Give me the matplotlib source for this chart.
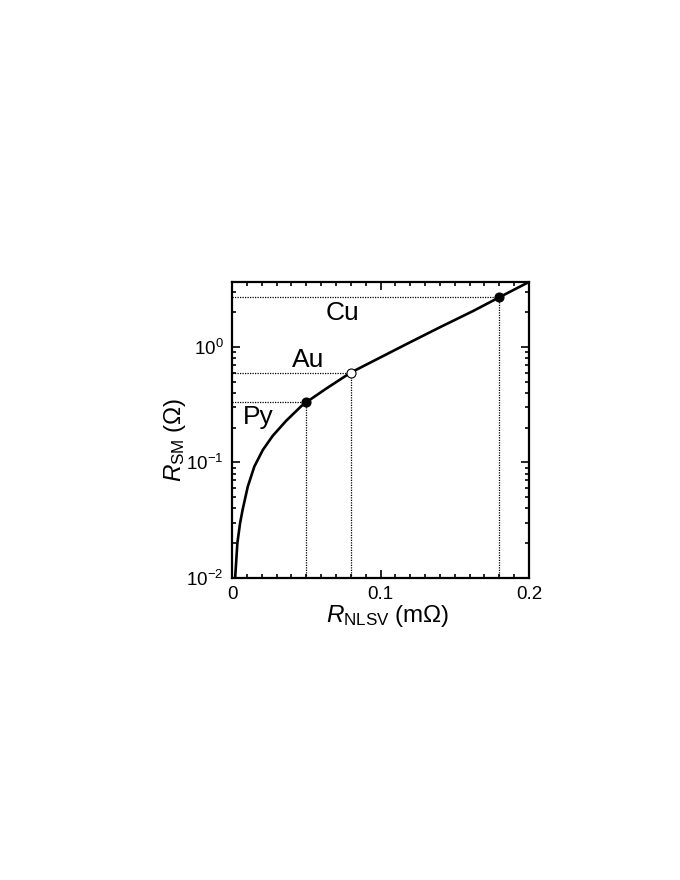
import matplotlib
matplotlib.use("Agg")
import matplotlib.pyplot as plt
from matplotlib.ticker import FixedLocator, FixedFormatter, LogLocator, LogFormatterMathtext, MultipleLocator

plt.rcParams["font.family"] = ["Liberation Sans", "DejaVu Sans"]
plt.rcParams["mathtext.fontset"] = "custom"
plt.rcParams["mathtext.rm"] = "Liberation Sans"
plt.rcParams["mathtext.it"] = "Liberation Sans:italic"

# curve: R_NLSV (mOhm) vs R_SM (Ohm)
r_nlsv = [0.0021, 0.0036, 0.0054, 0.0072, 0.0106, 0.0150, 0.0207, 0.0274,
          0.0364, 0.0465, 0.0500, 0.0638, 0.0800, 0.1000, 0.1176, 0.1400,
          0.1625, 0.1800, 0.2000]
r_sm = [0.0100, 0.0200, 0.0297, 0.0393, 0.0617, 0.092, 0.128, 0.170,
        0.229, 0.306, 0.332, 0.439, 0.600, 0.812, 1.060, 1.48,
        2.05, 2.69, 3.65]

# materials marked on the curve
materials = ["Py", "Au", "Cu"]
mat_x = [0.05, 0.08, 0.18]
mat_y = [0.332, 0.60, 2.69]
mat_filled = [True, False, True]

x_ticks = [0, 0.1, 0.2]
x_ticklabels = ["0", "0.1", "0.2"]

fig = plt.figure(figsize=(6.8, 8.8), dpi=100)
ax = fig.add_axes([0.3412, 0.3432, 0.4368, 0.3364])

ymin, ymax = 0.01, 3.65
for x, y in zip(mat_x, mat_y):
    ax.plot([0, x], [y, y], color="black", lw=0.9, ls=(0, (1, 1)), zorder=1)
    ax.plot([x, x], [ymin, y], color="black", lw=0.9, ls=(0, (1, 1)), zorder=1)

ax.plot(r_nlsv, r_sm, color="black", lw=1.9, zorder=2)

for x, y, filled in zip(mat_x, mat_y, mat_filled):
    ax.plot(x, y, "o", ms=6.5, mfc="black" if filled else "white",
            mec="black", mew=0.8, zorder=3)

label_pos = {"Py": (0.0175, 0.249), "Au": (0.051, 0.772), "Cu": (0.0747, 1.98)}
for name in materials:
    ax.text(*label_pos[name], name, fontsize=19, ha="center", va="center")

ax.set_yscale("log")
ax.set_xlim(0, 0.2)
ax.set_ylim(ymin, ymax)

ax.xaxis.set_major_locator(FixedLocator(x_ticks))
ax.xaxis.set_major_formatter(FixedFormatter(x_ticklabels))
ax.xaxis.set_minor_locator(MultipleLocator(0.01))
ax.yaxis.set_major_locator(LogLocator(base=10))
ax.yaxis.set_major_formatter(LogFormatterMathtext())
ax.yaxis.set_minor_locator(LogLocator(base=10, subs=range(2, 10)))

ax.tick_params(which="both", direction="in", top=True, right=True,
               labelsize=13.5, width=1.2)
ax.tick_params(which="major", length=5.5, pad=6)
ax.tick_params(which="minor", length=3)
for s in ax.spines.values():
    s.set_linewidth(1.6)

ax.set_xlabel(r"$\mathit{R}_{\mathrm{NLSV}}\;(\mathrm{m\Omega})$", fontsize=17.5)
ax.set_ylabel(r"$\mathit{R}_{\mathrm{SM}}\;(\Omega)$", fontsize=17.5)
ax.xaxis.set_label_coords(0.525, -0.085)
ax.yaxis.set_label_coords(-0.148, 0.466)

fig.savefig("out.png", dpi=100)
